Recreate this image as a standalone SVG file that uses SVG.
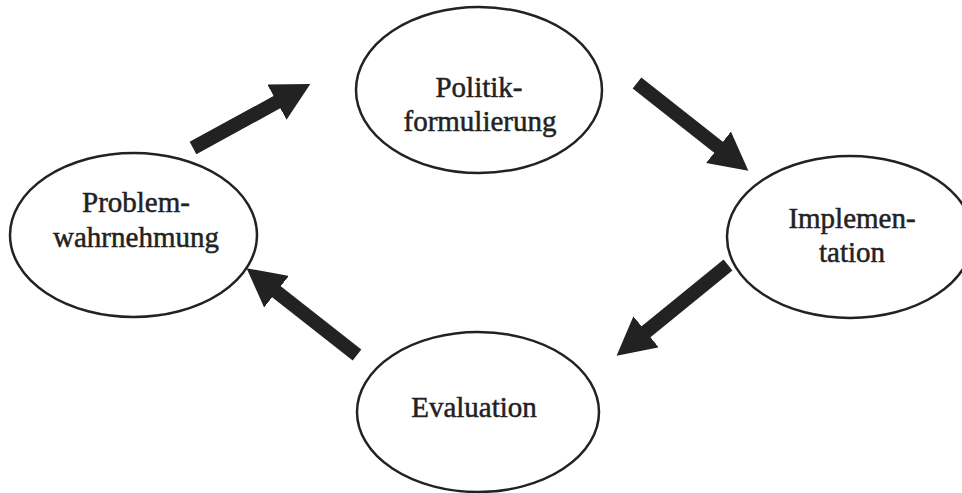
<svg xmlns="http://www.w3.org/2000/svg" width="962" height="493" viewBox="0 0 962 493">
<style>
.node ellipse{fill:#fff;stroke:#222;stroke-width:2.5}
.node text{font-family:"Liberation Serif","DejaVu Serif",serif;font-size:29px;fill:#222;stroke:#222;stroke-width:0.5;text-anchor:middle}
.conn line{stroke:#222;stroke-width:14;stroke-linecap:butt}
</style>
<defs>
<marker id="ah" viewBox="0 0 40 40" refX="2" refY="20" markerWidth="40" markerHeight="40" markerUnits="userSpaceOnUse" orient="auto">
<path d="M0,0 L38,20 L0,40 z" fill="#222"/>
</marker>
</defs>
<rect width="962" height="493" fill="#fff"/>
<g id="connectors" class="conn">
<line x1="193" y1="148" x2="278.7" y2="101.2" marker-end="url(#ah)"/>
<line x1="637" y1="83" x2="720.1" y2="148.5" marker-end="url(#ah)"/>
<line x1="728" y1="265" x2="644.5" y2="333" marker-end="url(#ah)"/>
<line x1="357" y1="355" x2="274.9" y2="290.5" marker-end="url(#ah)"/>
</g>
<g id="politik" class="node">
<ellipse cx="479" cy="90" rx="123" ry="83"/>
<text x="479" y="97">Politik-</text>
<text x="480" y="131">formulierung</text>
</g>
<g id="implementation" class="node">
<ellipse cx="850" cy="237" rx="123" ry="81"/>
<text x="852" y="228">Implemen-</text>
<text x="852" y="262">tation</text>
</g>
<g id="evaluation" class="node">
<ellipse cx="478" cy="412" rx="121" ry="80"/>
<text x="474" y="417">Evaluation</text>
</g>
<g id="problem" class="node">
<ellipse cx="133.5" cy="235" rx="123.5" ry="82"/>
<text x="136" y="212">Problem-</text>
<text x="136" y="247">wahrnehmung</text>
</g>
</svg>
